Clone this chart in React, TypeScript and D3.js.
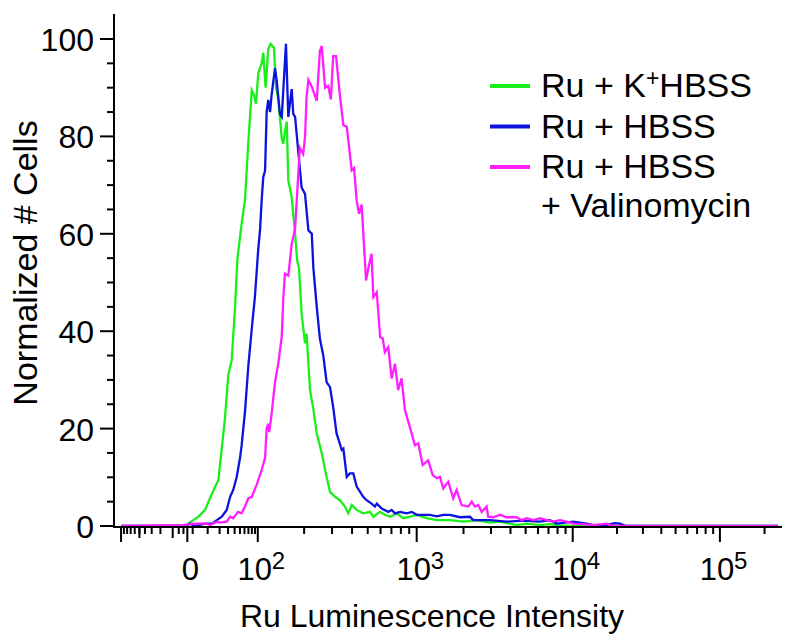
import React, { useEffect, useRef } from 'react';
import * as d3 from 'd3';

// histogram counts (normalized to 100) by display channel; the axis has 256 channels
const kHbss: [number, number][] = [
  [2.7, 0], [27.6, 0], [28.5, 0.5], [30.4, 1.2], [32.3, 1.9], [33.6, 2.6], [34.9, 3.3], [36.8, 5.7],
  [38.7, 8], [40.0, 9.4], [41.3, 16], [42.5, 22], [43.8, 31], [45.1, 34], [46.4, 45], [47.3, 55],
  [48.9, 62], [50.2, 67], [51.5, 79], [52.8, 89.5], [53.6, 88.6], [54.4, 86.7], [55.3, 93], [56.6, 95],
  [57.2, 97.2], [58.1, 90], [59.1, 97.9], [60.0, 99], [61.3, 98.2], [62.1, 90], [63.0, 87.5], [64.3, 79.5],
  [64.9, 78.5], [65.5, 81], [66.2, 83], [66.8, 71], [68.1, 67.5], [69.4, 60], [70.2, 54.5], [70.9, 53],
  [71.9, 43.6], [73.2, 37.5], [73.8, 39.5], [75.1, 28], [76.4, 24], [77.7, 19], [79.6, 15], [81.5, 10],
  [82.8, 7], [84.7, 6], [86.6, 5.3], [88.5, 4], [89.8, 2.6], [91.1, 4.3], [93.0, 3.3], [95.5, 2.6],
  [98.1, 2.9], [99.4, 1.9], [101.9, 2.9], [103.8, 2.3], [105.8, 1.9], [108.3, 2.6], [110.9, 1.6], [113.4, 1.9],
  [116.0, 2.3], [119.8, 1.6], [123.7, 1.2], [128.8, 1.2], [133.9, 0.9], [139.0, 1.2], [144.1, 0.7], [147.9, 0.9],
  [154.3, 0.2], [158.2, 0.5], [163.2, 0.2], [167.1, 0.4], [170.9, 0.1], [175.5, 0], [254.5, 0],
];

const hbss: [number, number][] = [
  [2.7, 0], [27.6, 0], [29.1, 0.5], [31.0, 0], [34.9, 0.5], [37.6, 0.5], [39.4, 1.2], [41.3, 1.9],
  [43.2, 3.3], [44.5, 6], [45.7, 7.4], [47.0, 10], [48.3, 14], [48.9, 16.5], [50.2, 23.5], [51.5, 33],
  [52.8, 40.5], [54.0, 47], [55.3, 57], [56.0, 61], [56.6, 67], [57.2, 71.6], [57.9, 73], [58.5, 85],
  [59.1, 87.5], [59.8, 85], [60.4, 88.5], [61.7, 94], [62.3, 91.7], [63.6, 84.6], [64.3, 84], [65.9, 99],
  [66.8, 84], [68.1, 89.7], [68.7, 84.6], [69.4, 84], [70.6, 77], [71.9, 69.5], [73.2, 68.2], [74.5, 60.7],
  [75.8, 60], [76.4, 53], [77.7, 45], [78.9, 38.5], [80.2, 35], [81.5, 29.5], [82.8, 28.5], [84.0, 24.4],
  [85.3, 19], [87.3, 15.6], [87.9, 15.9], [89.2, 10.1], [90.4, 10.8], [91.7, 10.8], [93.0, 8.1], [94.3, 7],
  [95.5, 6], [96.8, 5.3], [98.7, 4.6], [100.0, 4], [100.7, 4.6], [102.6, 3.6], [105.1, 2.9], [106.4, 3.3],
  [107.7, 2.6], [109.6, 2.9], [112.2, 2.6], [114.1, 2.9], [116.0, 2.3], [118.5, 2.3], [121.1, 2.3], [123.7, 2.0],
  [126.2, 2.3], [128.8, 2.3], [132.6, 1.8], [136.4, 1.9], [137.7, 1.2], [144.1, 1.2], [150.5, 0.9], [156.8, 1.1],
  [163.2, 0.9], [167.1, 1.2], [169.6, 0.5], [176.0, 0.9], [181.1, 0.5], [183.7, 0.2], [188.5, 0.2], [192.0, 0.6],
  [193.9, 0.5], [196.2, 0], [254.5, 0],
];

const hbssVal: [number, number][] = [
  [2.7, 0], [26.4, 0.2], [30.4, 0.5], [35.5, 0.5], [36.8, 0.2], [39.4, 0.9], [40.6, 0.7], [43.2, 0.9],
  [44.5, 1.9], [45.7, 1.6], [47.6, 2.9], [48.9, 2.6], [50.2, 4], [51.5, 5.7], [52.8, 6], [54.7, 8.5],
  [56.6, 11.5], [57.9, 14], [58.5, 20], [59.1, 21], [59.5, 19.3], [60.4, 23], [61.7, 29.5], [63.0, 33.5],
  [64.3, 39], [64.9, 47], [65.5, 51.8], [66.8, 51.4], [68.1, 57.9], [69.4, 61], [70.6, 72], [71.2, 77.7],
  [72.5, 76.4], [73.2, 79.8], [73.8, 88], [74.5, 91.6], [75.8, 90.2], [77.7, 87.3], [78.9, 97.5], [79.6, 98.6],
  [80.9, 90], [82.1, 90.4], [83.1, 87.6], [84.0, 96.5], [85.1, 96.5], [86.6, 88.3], [87.9, 82.3], [89.2, 82],
  [91.1, 73], [92.0, 73.5], [93.0, 66.8], [93.9, 64.1], [94.9, 66], [96.6, 50.4], [97.5, 53], [98.7, 55.9],
  [99.4, 47], [100.7, 48], [102.0, 38.8], [103.0, 38.5], [103.8, 35.7], [105.1, 36.7], [106.4, 30.3], [107.7, 33.3],
  [108.9, 27.9], [110.2, 30.3], [111.5, 23.8], [113.4, 20.3], [115.3, 16.6], [116.6, 17], [118.3, 12.5], [120.4, 13.5],
  [122.1, 10.5], [123.7, 9.8], [124.9, 10.1], [126.2, 7.7], [128.1, 9.1], [130.0, 5.7], [131.3, 7.4], [133.2, 4.3],
  [135.8, 4], [137.1, 5], [138.3, 4], [139.6, 4.3], [140.9, 2.9], [142.8, 4], [143.4, 1.9], [145.4, 1.8],
  [147.9, 2.3], [150.5, 1.8], [154.3, 1.8], [156.2, 1.2], [158.2, 1.6], [160.7, 1.2], [163.2, 1.6], [165.8, 1.2],
  [168.3, 0.9], [170.9, 1.2], [173.5, 0.9], [176.0, 0.5], [179.8, 0.4], [183.7, 0.2], [188.8, 0.5], [191.2, 0],
  [254.5, 0],
];

const seriesData = [kHbss, hbss, hbssVal];
const seriesColors = ['#1aef1a', '#0a14dc', '#ff1eff'];

// biexponential display: channel where each intensity sits
const axisValues = [-100, -10, 0, 100, 1e3, 1e4, 1e5, 262144];
const axisChannels = [2.7, 22.5, 28.1, 55.1, 116.0, 175.8, 232.2, 256];

const xMajor = [0, 100, 1e3, 1e4, 1e5];
const xMajorBase = ['0', '10', '10', '10', '10'];
const xMajorExp = ['', '2', '3', '4', '5'];

const yTicks = [0, 20, 40, 60, 80, 100];

const FONT = '"Liberation Sans", Arial, Helvetica, sans-serif';

export default function App() {
  const ref = useRef<SVGSVGElement>(null);

  useEffect(() => {
    const svg = d3.select(ref.current);
    svg.selectAll('*').remove();

    const left = 114, right = 782, top = 14, bottom = 527;

    const toCh = d3.scaleSymlog().constant(10).domain(axisValues).range(axisChannels);
    const x = d3.scaleLinear().domain([0, 256]).range([left, right]);
    const y = d3.scaleLinear().domain([0, 100]).range([526, 39]);
    const px = (v: number) => x(toCh(v));

    // curves
    const line = d3.line<[number, number]>()
      .x(d => x(d[0]))
      .y(d => y(d[1]));

    svg.append('g')
      .selectAll('path')
      .data(seriesData)
      .join('path')
      .attr('d', d => line(d))
      .attr('fill', 'none')
      .attr('stroke', (d, i) => seriesColors[i])
      .attr('stroke-width', 2.3);

    const axes = svg.append('g').attr('stroke', '#000').attr('stroke-width', 2);

    // y axis
    axes.append('line').attr('x1', left).attr('x2', left).attr('y1', top).attr('y2', bottom + 1);
    axes.selectAll('.ymaj').data(yTicks).join('line')
      .attr('x1', left - 14).attr('x2', left).attr('y1', d => y(d)).attr('y2', d => y(d));
    axes.selectAll('.ymin').data(d3.range(0, 101, 5).filter(v => v % 20)).join('line')
      .attr('x1', left - 7).attr('x2', left).attr('y1', d => y(d)).attr('y2', d => y(d));

    // x axis
    axes.append('line').attr('x1', left - 1).attr('x2', right).attr('y1', bottom).attr('y2', bottom);
    const minors = [
      ...d3.range(-90, -10, 10), -5, -2, 2, ...d3.range(10, 100, 10), ...d3.range(200, 1000, 100),
      ...d3.range(2e3, 1e4, 1e3), ...d3.range(2e4, 1e5, 1e4), 2e5,
    ];
    axes.selectAll('.xmin').data(minors).join('line')
      .attr('x1', d => px(d)).attr('x2', d => px(d)).attr('y1', bottom).attr('y2', bottom + 7);
    axes.selectAll('.xmid').data([-50, -10]).join('line')
      .attr('x1', d => px(d)).attr('x2', d => px(d)).attr('y1', bottom).attr('y2', bottom + 11);
    axes.selectAll('.xmaj').data([-100, ...xMajor]).join('line')
      .attr('x1', d => px(d)).attr('x2', d => px(d)).attr('y1', bottom).attr('y2', bottom + 15);

    const txt = svg.append('g').attr('font-family', FONT).attr('fill', '#000');

    // y labels
    txt.selectAll('.yl').data(yTicks).join('text')
      .attr('x', left - 20).attr('y', d => y(d) + 12)
      .attr('text-anchor', 'end').attr('font-size', 32)
      .text(d => d);

    // x labels
    xMajor.forEach((v, i) => {
      const cx = px(v);
      if (!xMajorExp[i]) {
        txt.append('text').attr('x', cx + 3).attr('y', 580).attr('text-anchor', 'middle')
          .attr('font-size', 31).text(xMajorBase[i]);
        return;
      }
      txt.append('text').attr('x', cx - 3).attr('y', 580).attr('text-anchor', 'middle')
        .attr('font-size', 31).text(xMajorBase[i]);
      txt.append('text').attr('x', cx + 14).attr('y', 569)
        .attr('font-size', 24).text(xMajorExp[i]);
    });

    // axis titles
    txt.append('text').attr('x', 432).attr('y', 627).attr('text-anchor', 'middle')
      .attr('font-size', 32).text('Ru Luminescence Intensity');
    txt.append('text').attr('transform', 'translate(37,263) rotate(-90)')
      .attr('text-anchor', 'middle').attr('font-size', 34).text('Normalized # Cells');

    // legend
    const lg = svg.append('g').attr('font-family', FONT).attr('font-size', 34);
    seriesColors.forEach((c, i) => {
      const ly = 86 + i * 40.5;
      lg.append('line').attr('x1', 490).attr('x2', 530).attr('y1', ly).attr('y2', ly)
        .attr('stroke', c).attr('stroke-width', 4);
    });
    const t0 = lg.append('text').attr('x', 541).attr('y', 97);
    t0.append('tspan').text('Ru + K');
    t0.append('tspan').attr('font-size', 23).attr('dy', -11).text('+');
    t0.append('tspan').attr('dy', 11).text('HBSS');
    lg.append('text').attr('x', 541).attr('y', 137.5).text('Ru + HBSS');
    lg.append('text').attr('x', 541).attr('y', 178).text('Ru + HBSS');
    lg.append('text').attr('x', 541).attr('y', 217).text('+ Valinomycin');
  }, []);

  return (
    <svg ref={ref} width={797} height={642}
      style={{ position: 'absolute', left: 0, top: 0, background: '#fff' }} />
  );
}
